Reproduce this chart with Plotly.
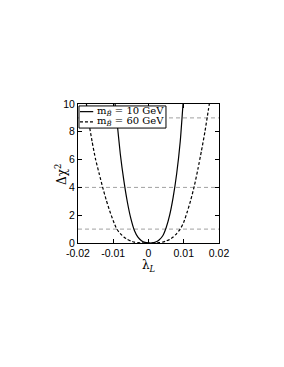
import plotly.graph_objects as go

# ---- data ----
lam_10 = [-0.0097, -0.0090, -0.0080, -0.0070, -0.0060, -0.0050, -0.0040, -0.0030,
          -0.0020, -0.0010, 0.0000, 0.0004, 0.0010, 0.0020, 0.0030, 0.0040, 0.0050,
          0.0060, 0.0070, 0.0080, 0.0090, 0.0099]
chi_10 = [10.5, 8.9, 6.4, 4.5, 2.95, 1.75, 0.9, 0.42,
          0.17, 0.04, 0.005, 0.0, 0.01, 0.07, 0.22, 0.5, 1.1,
          2.0, 3.3, 5.0, 7.3, 10.4]

lam_60 = [-0.0178, -0.017, -0.016, -0.015, -0.014, -0.013, -0.012, -0.011, -0.010,
          -0.009, -0.008, -0.007, -0.006, -0.005, -0.004, -0.003, -0.002, 0.0,
          0.002, 0.003, 0.004, 0.005, 0.006, 0.007, 0.008, 0.009, 0.010, 0.011,
          0.012, 0.013, 0.014, 0.015, 0.016, 0.017, 0.0175]
chi_60 = [10.4, 8.8, 7.3, 6.0, 5.0, 4.0, 3.1, 2.3, 1.6,
          1.0, 0.68, 0.43, 0.26, 0.14, 0.06, 0.02, 0.005, 0.0,
          0.005, 0.02, 0.06, 0.14, 0.26, 0.43, 0.68, 1.0, 1.5, 2.25,
          3.1, 4.1, 5.3, 6.6, 8.0, 9.6, 10.4]

ref_levels = [1, 4, 9]

x_tickvals = [-0.02, -0.01, 0, 0.01, 0.02]
x_ticktext = ["-0.02", "-0.01", "0", "0.01", "0.02"]
y_tickvals = [0, 2, 4, 6, 8, 10]
y_ticktext = ["0", "2", "4", "6", "8", "10"]

x_title = "λ<sub><i>L</i></sub>"
y_title = "Δχ<sup>2</sup>"
legend_labels = ["m<sub><i>B̃</i></sub> = 10 GeV", "m<sub><i>B̃</i></sub> = 60 GeV"]

fig = go.Figure()

for lv in ref_levels:
    fig.add_trace(go.Scatter(x=[-0.02, 0.02], y=[lv, lv], mode="lines",
                             line=dict(color="#a0a0a0", width=1, dash="4px,3px"),
                             showlegend=False, hoverinfo="skip"))

fig.add_trace(go.Scatter(x=lam_10, y=chi_10, mode="lines",
                         line=dict(color="black", width=1.2, shape="spline", smoothing=0.6),
                         showlegend=False))
fig.add_trace(go.Scatter(x=lam_60, y=chi_60, mode="lines",
                         line=dict(color="black", width=1.2, dash="3px,2px", shape="spline", smoothing=0.6),
                         showlegend=False))

axis_common = dict(showgrid=False, zeroline=False, showline=True, linecolor="black",
                   linewidth=1, mirror="allticks", ticks="inside", ticklen=4,
                   tickcolor="black", tickfont=dict(family="Liberation Sans, Arial", size=10.5, color="black"))

fig.update_xaxes(range=[-0.02, 0.02], tickvals=x_tickvals, ticktext=x_ticktext, **axis_common)
fig.update_yaxes(range=[0, 10], tickvals=y_tickvals, ticktext=y_ticktext, **axis_common)

# axis titles
fig.add_annotation(xref="paper", yref="paper", x=0.5, y=-0.165, text=x_title, showarrow=False,
                   xanchor="center", yanchor="middle", borderpad=0,
                   font=dict(family="DejaVu Serif", size=12, color="black"))
fig.add_annotation(xref="paper", yref="paper", x=-0.12, y=0.49, text=y_title, showarrow=False,
                   xanchor="center", yanchor="middle", textangle=-90,
                   font=dict(family="DejaVu Serif", size=12, color="black"))

# custom legend box
fig.add_shape(type="rect", xref="paper", yref="paper", x0=0.007, x1=0.624, y0=0.827, y1=0.986,
              line=dict(color="black", width=1), fillcolor="white", layer="above")
rows_y = [0.945, 0.872]
dashes = ["solid", "3px,2px"]
for ry, lbl, ds in zip(rows_y, legend_labels, dashes):
    fig.add_shape(type="line", xref="paper", yref="paper", x0=0.014, x1=0.108, y0=ry, y1=ry,
                  line=dict(color="black", width=1.2, dash=ds), layer="above")
    fig.add_annotation(xref="paper", yref="paper", x=0.118, y=ry, text=lbl, showarrow=False,
                       xanchor="left", yanchor="middle",
                       font=dict(family="DejaVu Serif", size=10, color="black"))

fig.update_layout(width=284, height=367, margin=dict(l=70, r=73, t=96, b=132),
                  paper_bgcolor="white", plot_bgcolor="white", showlegend=False)

fig.write_html("out.html")
